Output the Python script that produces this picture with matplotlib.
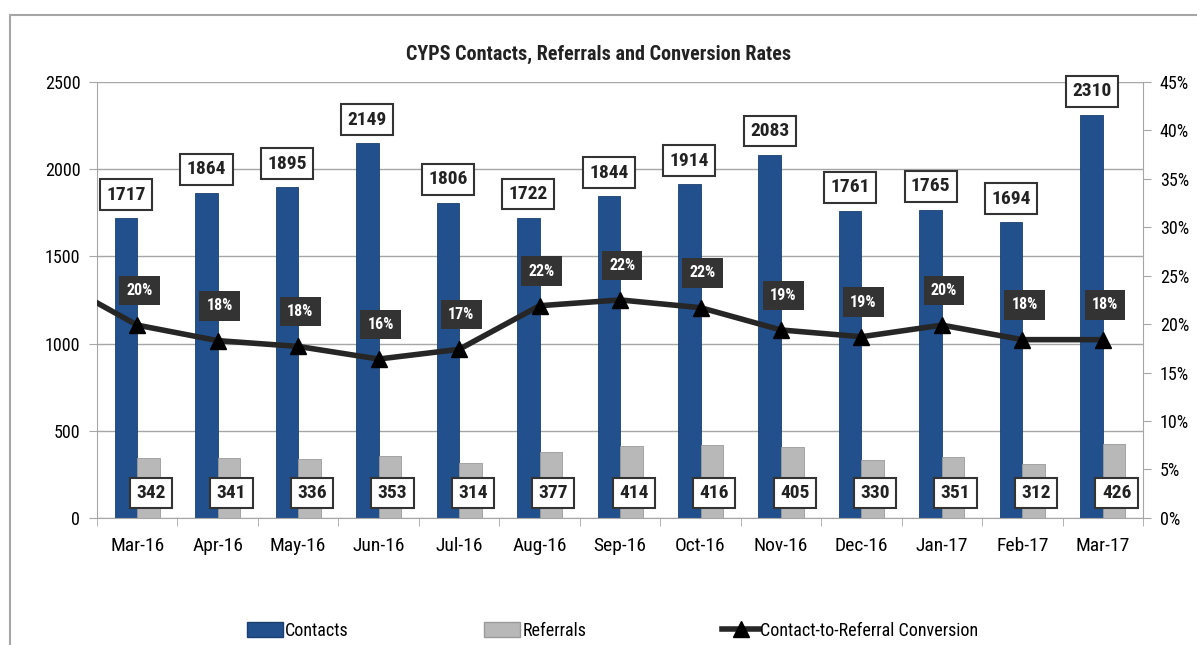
import numpy as np
import matplotlib.pyplot as plt
from matplotlib.patches import Rectangle, Patch
from matplotlib.lines import Line2D

plt.rcParams['font.family'] = ['Roboto Condensed', 'DejaVu Sans']
plt.rcParams['font.stretch'] = 'condensed'

months = ['Mar-16', 'Apr-16', 'May-16', 'Jun-16', 'Jul-16', 'Aug-16', 'Sep-16',
          'Oct-16', 'Nov-16', 'Dec-16', 'Jan-17', 'Feb-17', 'Mar-17']
contacts = [1717, 1864, 1895, 2149, 1806, 1722, 1844, 1914, 2083, 1761, 1765, 1694, 2310]
referrals = [342, 341, 336, 353, 314, 377, 414, 416, 405, 330, 351, 312, 426]
conversion = [19.9, 18.3, 17.7, 16.4, 17.4, 21.9, 22.5, 21.7, 19.4, 18.7, 19.9, 18.4, 18.4]
conversion_labels = ['20%', '18%', '18%', '16%', '17%', '22%', '22%', '22%', '19%', '19%', '20%', '18%', '18%']
prev_conversion = 24.5  # Feb-16, only the tail of the line shows

blue = '#22508c'
grey = '#b8b8b8'

fig = plt.figure(figsize=(11.97, 6.45), dpi=100)
ax = fig.add_axes([0.081, 0.197, 0.874, 0.676])
ax2 = ax.twinx()

x = np.arange(len(months))
w = 0.28
ax.bar(x - w / 2, contacts, width=w, color=blue, edgecolor='#1b3f6e', linewidth=0.6, zorder=2)
ax.bar(x + w / 2, referrals, width=w, color=grey, edgecolor='#9a9a9a', linewidth=0.6, zorder=2)

ax.set_xlim(-0.5, len(months) - 0.5)
ax.set_ylim(0, 2500)
ax.set_yticks(range(0, 2501, 500))
ax.grid(axis='y', color='#a6a6a6', linewidth=1, zorder=0)
ax.set_axisbelow(True)
ax.set_xticks(x)
ax.set_xticklabels(months, fontsize=14)
ax.set_xticks(np.arange(-0.5, len(months)), minor=True)
ax.tick_params(axis='x', which='major', length=0, pad=14)
ax.tick_params(axis='x', which='minor', length=6, color='#a6a6a6')
ax.tick_params(axis='y', labelsize=13, length=6, color='#a6a6a6', pad=6)
for s in ['left', 'right', 'bottom']:
    ax.spines[s].set_color('#a6a6a6')
ax.spines['top'].set_visible(False)

for xi, v in zip(x, contacts):
    ax.annotate(str(v), (xi - w / 2, v), xytext=(0, 17), textcoords='offset points',
                ha='center', va='center', fontsize=14, fontweight='bold', color='#222222',
                bbox=dict(boxstyle='square,pad=0.33', fc='white', ec='#333333', lw=1.5), zorder=5)
for xi, v in zip(x, referrals):
    ax.text(xi + w / 2 + 0.03, 143, str(v), ha='center', va='center', fontsize=14,
            fontweight='bold', color='#222222',
            bbox=dict(boxstyle='square,pad=0.33', fc='white', ec='#333333', lw=1.5), zorder=5)

xl = np.concatenate([[-1], x])
yl = [prev_conversion] + conversion
ax2.plot(xl, yl, color='#262626', lw=4, solid_joinstyle='round', zorder=3)
ax2.plot(x, conversion, ls='none', marker='^', ms=12, color='black', zorder=4)
for xi, v, lab in zip(x, conversion, conversion_labels):
    ax2.annotate(lab, (xi, v), xytext=(1.5, 25), textcoords='offset points',
                 ha='center', va='center', fontsize=11.5, fontweight='bold', color='white',
                 bbox=dict(boxstyle='square,pad=0.45', fc='#333333', ec='none'), zorder=6)
ax2.set_ylim(0, 45)
ax2.set_yticks(range(0, 46, 5))
ax2.set_yticklabels([f'{t}%' for t in range(0, 46, 5)])
ax2.tick_params(axis='y', labelsize=13, length=6, color='#a6a6a6', pad=6)
for s in ax2.spines.values():
    s.set_visible(False)
ax.set_xlim(-0.5, len(months) - 0.5)

fig.text(0.5, 0.915, 'CYPS Contacts, Referrals and Conversion Rates', ha='center', va='center',
         fontsize=14.5, fontweight='bold', color='#222222')

fig.legend(handles=[Patch(facecolor=blue, edgecolor='#1b3f6e', label='Contacts')],
           loc='center left', bbox_to_anchor=(0.193, 0.022), frameon=False, fontsize=13,
           handlelength=2.0, handleheight=0.9, handletextpad=0.1)
fig.legend(handles=[Patch(facecolor=grey, edgecolor='#9a9a9a', label='Referrals')],
           loc='center left', bbox_to_anchor=(0.391, 0.022), frameon=False, fontsize=13,
           handlelength=2.0, handleheight=0.9, handletextpad=0.1)
fig.legend(handles=[Line2D([], [], color='#262626', lw=4, marker='^', ms=12, mfc='black', mec='black',
                           label='Contact-to-Referral Conversion')],
           loc='center left', bbox_to_anchor=(0.590, 0.022), frameon=False, fontsize=13,
           handlelength=2.0, handletextpad=0.1)

fig.patches.append(Rectangle((10 / 1197, -0.01), 1.0, 1 - 15 / 645 + 0.01, transform=fig.transFigure,
                             fill=False, ec='#a6a6a6', lw=1.5))

fig.savefig('out.png', dpi=100)
